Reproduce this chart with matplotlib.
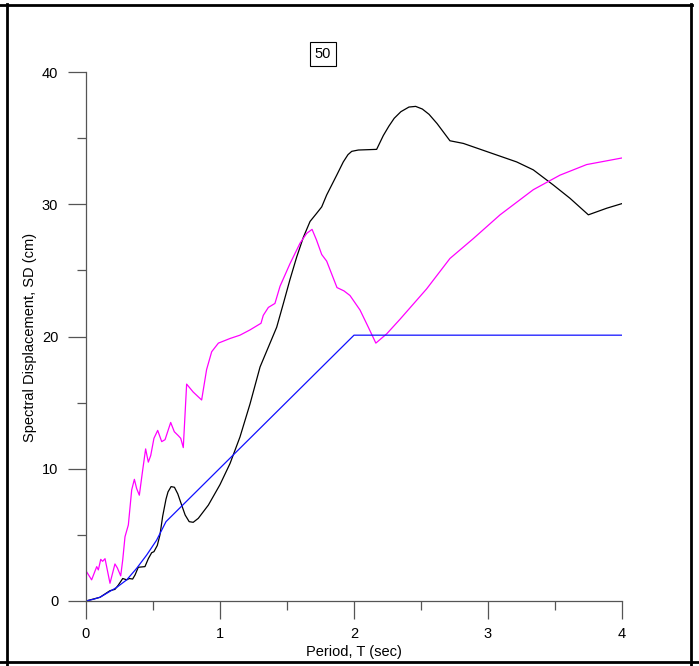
import numpy as np
import matplotlib
matplotlib.use("Agg")
import matplotlib.pyplot as plt
from matplotlib.lines import Line2D

plt.rcParams['font.family'] = ['Liberation Sans', 'DejaVu Sans']

# black curve: spectral displacement of record
black_T  = [0.0, 0.104, 0.179, 0.216, 0.241, 0.274, 0.304, 0.323, 0.348, 0.366, 0.39, 0.44,
            0.465, 0.49, 0.507, 0.532, 0.552, 0.572, 0.597, 0.612, 0.635, 0.66, 0.685, 0.714,
            0.74, 0.77, 0.80, 0.838, 0.913, 1.0, 1.075, 1.149, 1.224, 1.299, 1.361, 1.423,
            1.473, 1.522, 1.572, 1.622, 1.672, 1.72, 1.759, 1.796, 1.871, 1.92, 1.955, 1.983,
            2.032, 2.169, 2.219, 2.26, 2.30, 2.35, 2.41, 2.46, 2.51, 2.56, 2.62, 2.716,
            2.816, 3.015, 3.214, 3.338, 3.488, 3.612, 3.749, 3.886, 4.0]
black_SD = [0.0, 0.28, 0.78, 0.88, 1.2, 1.7, 1.6, 1.7, 1.66, 1.97, 2.55, 2.6,
            3.2, 3.65, 3.73, 4.2, 5.0, 6.4, 7.7, 8.25, 8.65, 8.6, 8.1, 7.25,
            6.5, 6.0, 5.95, 6.25, 7.25, 8.8, 10.4, 12.4, 14.9, 17.7, 19.2, 20.7,
            22.5, 24.3, 26.0, 27.5, 28.7, 29.3, 29.8, 30.7, 32.2, 33.2, 33.75, 34.0,
            34.1, 34.15, 35.2, 35.9, 36.5, 37.0, 37.35, 37.4, 37.2, 36.8, 36.1, 34.8,
            34.6, 33.9, 33.2, 32.6, 31.45, 30.45, 29.2, 29.7, 30.05]

# magenta curve
mag_T  = [0.005, 0.042, 0.08, 0.092, 0.11, 0.124, 0.142, 0.179, 0.216, 0.234, 0.259, 0.274,
          0.291, 0.316, 0.341, 0.361, 0.378, 0.398, 0.423, 0.445, 0.465, 0.483, 0.507, 0.535,
          0.565, 0.59, 0.632, 0.659, 0.689, 0.707, 0.726, 0.751, 0.80, 0.863, 0.90, 0.938,
          0.988, 1.075, 1.149, 1.224, 1.306, 1.323, 1.361, 1.41, 1.448, 1.522, 1.597, 1.647,
          1.687, 1.72, 1.759, 1.796, 1.873, 1.925, 1.97, 2.045, 2.107, 2.163, 2.244, 2.343,
          2.542, 2.716, 2.89, 3.09, 3.338, 3.537, 3.736, 4.0]
mag_SD = [2.2, 1.6, 2.6, 2.35, 3.15, 3.0, 3.2, 1.34, 2.8, 2.5, 1.9, 3.1,
          4.86, 5.75, 8.4, 9.2, 8.5, 8.0, 9.9, 11.5, 10.5, 11.0, 12.3, 12.9,
          12.05, 12.2, 13.5, 12.8, 12.5, 12.3, 11.6, 16.4, 15.8, 15.2, 17.5, 18.85,
          19.5, 19.85, 20.1, 20.5, 21.0, 21.6, 22.2, 22.5, 23.8, 25.5, 27.05, 27.8,
          28.1, 27.3, 26.2, 25.7, 23.7, 23.45, 23.1, 22.0, 20.7, 19.5, 20.2, 21.3,
          23.6, 25.9, 27.4, 29.2, 31.1, 32.2, 33.0, 33.5]

# blue curve: design spectrum
blue_T  = [0.0, 0.055, 0.104, 0.154, 0.229, 0.304, 0.378, 0.453, 0.527, 0.597, 2.0, 4.0]
blue_SD = [0.0, 0.13, 0.28, 0.58, 1.03, 1.6, 2.47, 3.48, 4.6, 6.0, 20.1, 20.1]

W, H = 699, 666
fs = 10.5
fig = plt.figure(figsize=(W / 100, H / 100), dpi=100)
ax = fig.add_axes([86 / W, 1 - 601 / H, (622 - 86) / W, (601 - 72) / H])

ax.plot(black_T, black_SD, color='black', lw=0.9)
ax.plot(mag_T, mag_SD, color='#ff00ff', lw=0.9)
ax.plot(blue_T, blue_SD, color='#1010ff', lw=0.9)

ax.set_xlim(0, 4)
ax.set_ylim(0, 40)
ax.set_xticks([0, 1, 2, 3, 4])
ax.set_yticks([0, 10, 20, 30, 40])
ax.set_xticks(np.arange(0.5, 4, 1), minor=True)
ax.set_yticks(np.arange(5, 40, 10), minor=True)

for s in ['top', 'right']:
    ax.spines[s].set_visible(False)
for s in ['left', 'bottom']:
    ax.spines[s].set_color('#555555')
    ax.spines[s].set_linewidth(0.9)

ax.tick_params(which='major', direction='out', length=13, width=0.9, color='#555555',
               labelsize=fs, pad=6)
ax.tick_params(which='minor', direction='out', length=6.5, width=0.9, color='#555555')
ax.tick_params(axis='y', pad=7)

fig.text(354 / W, 1 - 652 / H, 'Period, T (sec)', ha='center', va='center', fontsize=fs)
fig.text(30 / W, 1 - 337 / H, 'Spectral Displacement, SD (cm)', ha='center', va='center',
         rotation=90, fontsize=fs)
fig.text(323 / W, 1 - 54 / H, '50', ha='center', va='center', fontsize=fs,
         bbox=dict(boxstyle='square,pad=0.35', fc='white', ec='black', lw=0.8))

# outer frame
fig.add_artist(Line2D([0, 692 / W], [1 - 5 / H, 1 - 5 / H], transform=fig.transFigure, color='black', lw=2))
fig.add_artist(Line2D([0, 1], [1 - 662 / H, 1 - 662 / H], transform=fig.transFigure, color='black', lw=2))
fig.add_artist(Line2D([7 / W, 7 / W], [0, 1 - 4 / H], transform=fig.transFigure, color='black', lw=2))
fig.add_artist(Line2D([691 / W, 691 / W], [0, 1 - 4 / H], transform=fig.transFigure, color='black', lw=2))

fig.savefig('out.png', dpi=100)
